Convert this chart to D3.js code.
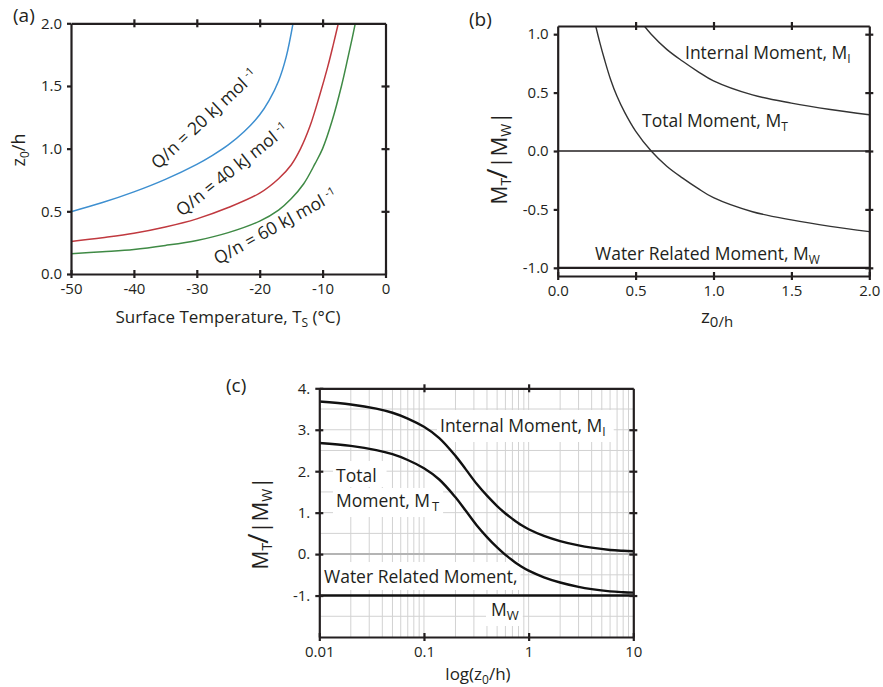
<!DOCTYPE html>
<html>
<head>
<meta charset="utf-8">
<script src="https://cdn.jsdelivr.net/npm/d3@7"></script>
<style>
body { margin: 0; background: #fff; }
text { font-family: "Open Sans", Lato, sans-serif; fill: #231f20; }
</style>
</head>
<body>
<div id="chart"></div>
<script>
// panel (a): z0/h against surface temperature for three Q/n values
var tempBlue = [-50, -45, -40, -35, -30, -27.5, -25, -22.5, -20, -18.5, -17, -15.8, -14.7];
var zBlue    = [0.497, 0.57, 0.655, 0.755, 0.875, 0.947, 1.03, 1.135, 1.27, 1.385, 1.54, 1.73, 2.0];
var tempRed  = [-50, -45, -40, -35, -30, -25, -20, -17, -15, -13.5, -12, -10.5, -9.2, -8.3, -7.5];
var zRed     = [0.26, 0.29, 0.325, 0.375, 0.44, 0.53, 0.645, 0.76, 0.87, 1.0, 1.18, 1.42, 1.65, 1.83, 2.0];
var tempGreen = [-50, -45, -40, -35, -30, -25, -20, -17, -15, -13, -11.2, -10, -8.5, -7, -6, -5.3, -4.8];
var zGreen    = [0.162, 0.178, 0.196, 0.228, 0.268, 0.33, 0.422, 0.51, 0.6, 0.72, 0.88, 1.0, 1.22, 1.5, 1.72, 1.88, 2.0];
var labelsA = ["20", "40", "60"];

// panel (b): moments against z0/h, linear axis
var zTotalB = [0.244, 0.27, 0.3, 0.34, 0.38, 0.43, 0.5, 0.6, 0.7, 0.8, 0.9, 1.0, 1.25, 1.5, 1.75, 2.0];
var totalB  = [1.07, 0.93, 0.785, 0.61, 0.47, 0.33, 0.17, 0.0, -0.13, -0.23, -0.32, -0.40, -0.52, -0.59, -0.645, -0.69];
var zInternalB = [0.556, 0.6, 0.7, 0.8, 0.9, 1.0, 1.25, 1.5, 1.75, 2.0];
var internalB  = [1.07, 1.0, 0.87, 0.77, 0.68, 0.60, 0.48, 0.41, 0.355, 0.31];
var waterB = -1;

// panel (c): the same moments on a log axis
var zC        = [0.01, 0.02, 0.035, 0.05, 0.07, 0.1, 0.14, 0.2, 0.25, 0.32, 0.4, 0.5, 0.6, 0.7, 0.85, 1.0, 1.4, 2, 3, 4, 6, 8, 10];
var internalC = [3.68, 3.61, 3.51, 3.41, 3.27, 3.07, 2.80, 2.37, 2.05, 1.69, 1.41, 1.16, 0.98, 0.85, 0.70, 0.60, 0.44, 0.315, 0.21, 0.155, 0.10, 0.08, 0.07];
var totalC    = [2.68, 2.61, 2.51, 2.41, 2.27, 2.07, 1.80, 1.37, 1.05, 0.69, 0.41, 0.16, -0.02, -0.15, -0.30, -0.40, -0.56, -0.685, -0.79, -0.845, -0.90, -0.92, -0.93];
var waterC = -1;

var ink = "#231f20";
var width = 883, height = 687;

var svg = d3.select("#chart").append("svg")
    .attr("width", width)
    .attr("height", height);

// one side of a boxed frame; cross = ticks go both ways through the line
function side(gen, tx, ty, vals, fmt, cross, horiz) {
    var a = svg.append("g")
        .attr("transform", "translate(" + tx + "," + ty + ")")
        .call(gen.tickValues(vals).tickSize(4).tickSizeOuter(0).tickPadding(5)
            .tickFormat(fmt || function () { return ""; }));
    a.attr("font-family", null).attr("font-size", 15);
    a.select(".domain").attr("stroke", ink).attr("stroke-width", 2.2);
    a.selectAll(".tick line").attr("stroke", ink).attr("stroke-width", 2.2);
    if (cross) {
        var k = horiz ? "y" : "x";
        a.selectAll(".tick line").attr(k + "1", function () {
            return -(+d3.select(this).attr(k + "2"));
        });
    }
    a.selectAll("text").attr("fill", ink);
    return a;
}

function clip(id, x, y) {
    var r = x.range(), s = y.range();
    svg.append("clipPath").attr("id", id).append("rect")
        .attr("x", r[0]).attr("y", s[1])
        .attr("width", r[1] - r[0]).attr("height", s[0] - s[1]);
}

function curve(xs, ys, x, y, color, w, clipId) {
    var line = d3.line()
        .x(function (d) { return x(d[0]); })
        .y(function (d) { return y(d[1]); })
        .curve(d3.curveCatmullRom.alpha(0.5));
    svg.append("path")
        .datum(xs.map(function (v, i) { return [v, ys[i]]; }))
        .attr("d", line)
        .attr("fill", "none")
        .attr("stroke", color)
        .attr("stroke-width", w)
        .attr("clip-path", "url(#" + clipId + ")");
}

// text with pieces: [string, "sub"|"sup"|null, size, dx]
function rich(x, y, parts, size, rotate) {
    var t = svg.append("text").attr("font-size", size);
    if (rotate) t.attr("transform", "translate(" + x + "," + y + ") rotate(" + rotate + ")");
    else t.attr("x", x).attr("y", y);
    var shift = 0;
    parts.forEach(function (p) {
        var ts = t.append("tspan").text(p[0]);
        var want = p[1] == "sub" ? 4 : p[1] == "sup" ? -6 : 0;
        if (want != shift) { ts.attr("dy", want - shift); shift = want; }
        if (p[2]) ts.attr("font-size", p[2]);
        if (p[3]) ts.attr("dx", p[3]);
    });
    return t;
}

function fixed1(d) { return d.toFixed(1); }

// ---------- panel (a)
var xA = d3.scaleLinear().domain([-50, 0]).range([71, 385.5]);
var yA = d3.scaleLinear().domain([0, 2]).range([274, 23.3]);
clip("clipA", xA, yA);

curve(tempBlue, zBlue, xA, yA, "#3d8fd0", 1.5, "clipA");
curve(tempRed, zRed, xA, yA, "#c0393f", 1.5, "clipA");
curve(tempGreen, zGreen, xA, yA, "#3f8a45", 1.5, "clipA");

side(d3.axisBottom(xA), 0, yA(0), d3.range(-50, 1, 10), function (d) { return String(d); }, true, true);
side(d3.axisTop(xA), 0, yA(2), [-40, -30, -20, -10], null, true, true);
side(d3.axisLeft(yA), xA(-50), 0, [0, 0.5, 1, 1.5, 2], fixed1, false, false);
side(d3.axisRight(yA), xA(0), 0, [0.5, 1, 1.5], null, true, false);

var labelPosA = [[158, 170, -43], [182, 217, -38.5], [218, 265, -29]];
labelsA.forEach(function (q, i) {
    var p = labelPosA[i];
    rich(p[0], p[1], [["Q/n = " + q + " kJ mol"], ["-1", "sup", 11, 4]], 17.5, p[2]);
});

rich(228, 323, [["Surface Temperature, T"], ["S", "sub", 12], [" (°C)", null, 17]], 17)
    .attr("text-anchor", "middle");
rich(25, 150, [["z"], ["0", "sub", 12], ["/h", null, 18]], 18, -90)
    .attr("text-anchor", "middle");
svg.append("text").attr("x", 13).attr("y", 22).attr("font-size", 19).text("(a)");

// ---------- panel (b)
var xB = d3.scaleLinear().domain([0, 2]).range([557.7, 869.3]);
var yB = d3.scaleLinear().domain([-1.07, 1.07]).range([276, 26]);
clip("clipB", xB, yB);

svg.append("line")
    .attr("x1", xB(0)).attr("x2", xB(2))
    .attr("y1", yB(0)).attr("y2", yB(0))
    .attr("stroke", ink).attr("stroke-width", 1.6);
svg.append("line")
    .attr("x1", xB(0)).attr("x2", xB(2))
    .attr("y1", yB(waterB)).attr("y2", yB(waterB))
    .attr("stroke", ink).attr("stroke-width", 2.2);

curve(zTotalB, totalB, xB, yB, "#333", 1.4, "clipB");
curve(zInternalB, internalB, xB, yB, "#333", 1.4, "clipB");

side(d3.axisBottom(xB), 0, yB(-1.07), [0, 0.5, 1, 1.5, 2], fixed1, true, true);
side(d3.axisTop(xB), 0, yB(1.07), [0.5, 1, 1.5], null, true, true);
side(d3.axisLeft(yB), xB(0), 0, [-1, -0.5, 0, 0.5, 1], fixed1, false, false);
side(d3.axisRight(yB), xB(2), 0, [-1, -0.5, 0, 0.5, 1], null, true, false);

rich(685, 59, [["Internal Moment, M"], ["I", "sub", 12]], 17.5);
rich(642, 127, [["Total Moment, M"], ["T", "sub", 12]], 17.5);
rich(595, 260, [["Water Related Moment, M"], ["W", "sub", 12]], 17.5);

function momentLabel(x, y) {
    rich(x, y, [["M", null, 21], ["T", "sub", 14], ["/", null, 28, -1], ["|M", null, 22], ["W", "sub", 14], ["|", null, 22]], 21, -90)
        .attr("text-anchor", "middle");
}
momentLabel(507, 158);
rich(717, 323, [["z", null, 19], ["0/h", "sub", 15]], 19).attr("text-anchor", "middle");
svg.append("text").attr("x", 469).attr("y", 26).attr("font-size", 19).text("(b)");

// ---------- panel (c)
var xC = d3.scaleLog().domain([0.01, 10]).range([319.3, 633.3]);
var yC = d3.scaleLinear().domain([-2, 4]).range([637, 388.3]);
clip("clipC", xC, yC);

var gridC = svg.append("g").attr("stroke", "#d2d2d2").attr("stroke-width", 1);
var minorC = [];
[0.01, 0.1, 1].forEach(function (dec) {
    for (var m = 1; m < 10; m++) minorC.push(dec * m);
});
gridC.selectAll(".v").data(minorC.slice(1)).join("line")
    .attr("x1", xC).attr("x2", xC)
    .attr("y1", yC(-2)).attr("y2", yC(4));
gridC.selectAll(".h").data(d3.range(-1.5, 4, 0.5)).join("line")
    .attr("x1", xC(0.01)).attr("x2", xC(10))
    .attr("y1", yC).attr("y2", yC);
svg.append("line")
    .attr("x1", xC(0.01)).attr("x2", xC(10))
    .attr("y1", yC(0)).attr("y2", yC(0))
    .attr("stroke", "#b4b4b4").attr("stroke-width", 2);

function boxed(x, y, parts, size, pad) {
    var t = rich(x, y, parts, size);
    var b = t.node().getBBox();
    svg.insert("rect", function () { return t.node(); })
        .attr("x", b.x - pad[0]).attr("y", b.y - pad[1])
        .attr("width", b.width + pad[0] + pad[2]).attr("height", b.height + pad[1] + pad[3])
        .attr("fill", "#fff");
    return t;
}
boxed(440, 432, [["Internal Moment, M"], ["I", "sub", 12]], 17.5, [3, 3, 8, 2]);
boxed(336, 482, [["Total"]], 17.5, [3, 2, 10, 0]);
boxed(336, 507, [["Moment, M"], ["T", "sub", 13, 2]], 17.5, [3, 0, 3, 2]);
boxed(324, 583, [["Water Related Moment,"]], 17.5, [3, 2, 3, 2]);
boxed(491, 616, [["M"], ["W", "sub", 13]], 17.5, [5, 3, 4, 2]);

curve(zC, internalC, xC, yC, "#111", 2.4, "clipC");
curve(zC, totalC, xC, yC, "#111", 2.4, "clipC");
svg.append("line")
    .attr("x1", xC(0.01)).attr("x2", xC(10))
    .attr("y1", yC(waterC)).attr("y2", yC(waterC))
    .attr("stroke", "#111").attr("stroke-width", 2.6);

side(d3.axisBottom(xC), 0, yC(-2), [0.01, 0.1, 1, 10], function (d) { return String(d); }, true, true);
side(d3.axisTop(xC), 0, yC(4), [0.1, 1], null, true, true);
side(d3.axisLeft(yC), xC(0.01), 0, [-1, 0, 1, 2, 3, 4], function (d) { return d + "."; }, true, false);
side(d3.axisRight(yC), xC(10), 0, [-1, 0, 1, 2, 3], null, true, false);

momentLabel(268, 523);
rich(478, 680, [["log(", null, 17], ["z", null, 17], ["0", "sub", 12], ["/h)", null, 17]], 17)
    .attr("text-anchor", "middle");
svg.append("text").attr("x", 226).attr("y", 392).attr("font-size", 19).text("(c)");
</script>
</body>
</html>
